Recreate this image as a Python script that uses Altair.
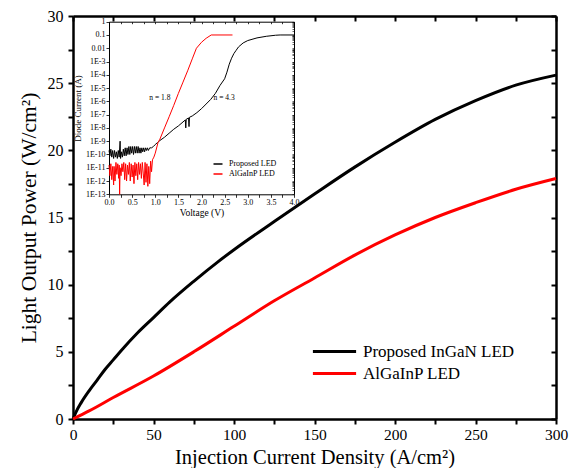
import altair as alt
import pandas as pd

# ---------------- main chart data ----------------
J_ingan = [0, 2, 5, 10, 15, 20, 25, 30, 40, 50, 60, 75, 90, 100, 125, 150, 175, 200, 225, 250, 275, 300]
P_ingan = [0, 0.55, 1.2, 2.1, 2.9, 3.7, 4.4, 5.1, 6.4, 7.55, 8.7, 10.25, 11.7, 12.6, 14.7, 16.75, 18.75, 20.6, 22.3, 23.7, 24.85, 25.6]
J_algainp = [0, 10, 25, 50, 75, 100, 125, 150, 175, 200, 225, 250, 275, 300]
P_algainp = [0, 0.6, 1.6, 3.2, 5.0, 6.9, 8.8, 10.5, 12.2, 13.7, 15.0, 16.1, 17.1, 17.9]
main_series = ["Proposed InGaN LED", "AlGaInP LED"]

# ---------------- inset data (voltage, log10 of current) ----------------
V_prop = [0.00, 0.02, 0.04, 0.06, 0.08, 0.10, 0.12, 0.14, 0.16, 0.18, 0.20, 0.22, 0.24, 0.25,
          0.27, 0.29, 0.31, 0.33, 0.35, 0.37, 0.39, 0.41, 0.43, 0.45, 0.47, 0.49, 0.51, 0.53,
          0.55, 0.57, 0.59, 0.61, 0.63, 0.65, 0.67, 0.69, 0.71, 0.73, 0.75, 0.77, 0.79, 0.81,
          0.83, 0.85, 0.88, 0.92, 0.96, 1.00, 1.05, 1.10, 1.20, 1.30, 1.40, 1.50, 1.60, 1.65,
          1.66, 1.67, 1.72, 1.73, 1.74, 1.80, 1.90, 2.00, 2.10, 2.20, 2.30, 2.40, 2.50, 2.55,
          2.60, 2.65, 2.70, 2.75, 2.80, 2.90, 3.00, 3.20, 3.40, 3.60, 3.70, 4.00]
E_prop = [-9.7, -10.1, -9.6, -10.2, -9.7, -10.3, -9.7, -10.2, -9.8, -10.3, -9.7, -10.2, -9.0, -10.3,
          -9.8, -10.2, -9.6, -10.1, -9.5, -10.1, -9.5, -10.0, -9.4, -10.0, -9.4, -9.9, -9.4, -10.0,
          -9.4, -9.9, -9.4, -9.9, -9.4, -9.9, -9.5, -9.9, -9.5, -9.8, -9.5, -9.8, -9.5, -9.7,
          -9.5, -9.7, -9.5, -9.5, -9.4, -9.25, -9.1, -8.95, -8.7, -8.4, -8.1, -7.85, -7.55, -7.4,
          -8.0, -7.35, -7.25, -7.9, -7.2, -7.1, -6.85, -6.55, -6.2, -5.85, -5.4, -4.8, -4.3, -3.8,
          -3.2, -2.75, -2.4, -2.15, -1.9, -1.6, -1.42, -1.22, -1.1, -1.02, -1.0, -1.0]

V_alg = [0.00, 0.02, 0.04, 0.06, 0.08, 0.10, 0.11, 0.13, 0.15, 0.17, 0.19, 0.21, 0.22, 0.23,
         0.24, 0.26, 0.28, 0.30, 0.32, 0.34, 0.36, 0.38, 0.40, 0.42, 0.44, 0.46, 0.48, 0.50,
         0.52, 0.54, 0.56, 0.58, 0.60, 0.62, 0.64, 0.66, 0.68, 0.70, 0.72, 0.74, 0.76, 0.78,
         0.80, 0.82, 0.84, 0.86, 0.88, 0.90, 0.92, 0.94, 0.97, 1.00, 1.06, 1.10, 1.20, 1.30,
         1.40, 1.50, 1.60, 1.70, 1.80, 1.89, 2.00, 2.10, 2.21, 2.67]
E_alg = [-10.8, -11.6, -10.7, -11.9, -10.9, -12.3, -10.9, -12.0, -10.6, -11.5, -10.7, -11.8, -10.8, -13.0,
         -11.0, -11.6, -10.7, -11.3, -10.6, -11.9, -10.7, -12.0, -10.8, -11.5, -10.6, -12.0, -10.7, -11.7,
         -10.8, -12.2, -10.6, -11.6, -10.7, -11.9, -10.6, -11.5, -10.7, -11.8, -10.6, -11.4, -12.3, -10.6,
         -12.1, -10.7, -12.4, -10.9, -12.2, -10.5, -11.3, -10.4, -10.2, -9.9, -9.1, -8.85, -8.0, -7.16,
         -6.3, -5.4, -4.55, -3.7, -2.8, -2.0, -1.55, -1.25, -1.0, -1.0]
inset_series = ["Proposed LED", "AlGaInP LED"]

note_V = [1.1, 2.49]
note_E = [-5.77, -5.75]
note_text = ["n = 1.8", "n = 4.3"]

# ---------------- tables ----------------
main_df = pd.concat([
    pd.DataFrame({"J": J_ingan, "P": P_ingan, "series": main_series[0]}),
    pd.DataFrame({"J": J_algainp, "P": P_algainp, "series": main_series[1]}),
], ignore_index=True)
inset_df = pd.concat([
    pd.DataFrame({"V": V_prop, "I": [10 ** e for e in E_prop], "series": inset_series[0]}),
    pd.DataFrame({"V": V_alg, "I": [10 ** e for e in E_alg], "series": inset_series[1]}),
], ignore_index=True)
note_df = pd.DataFrame({"V": note_V, "I": [10 ** e for e in note_E], "label": note_text})

# ---------------- layout ----------------
W, H = 483, 403
FONT = "Liberation Serif"
IX0, IX1 = 36, 221       # inset plot area x-range (px inside main plot)
IY0, IY1 = 178.3, 5.7    # inset plot area y-range (bottom, top)

jx = alt.Scale(domain=[0, 300], nice=False, zero=False)
py = alt.Scale(domain=[0, 30], nice=False, zero=False)
vx = alt.Scale(domain=[0, 4], nice=False, zero=False, range=[IX0, IX1])
iy = alt.Scale(type="log", domain=[1e-13, 1], nice=False, range=[IY0, IY1])

jvals = list(range(0, 301, 25))
pvals = [i * 2.5 for i in range(13)]
vvals = [i * 0.25 for i in range(17)]
ivals = [10.0 ** (-k) for k in range(13, -1, -1)]
ivals_minor = [m * 10.0 ** (-k) for k in range(13, 0, -1) for m in range(1, 10)] + [1.0]

ax_common = dict(domainColor="black", tickColor="black", labelColor="black", titleColor="black",
                 grid=False, labelFont=FONT, titleFont=FONT, titleFontWeight="normal",
                 labelOverlap=False, labelFlush=False)

main = alt.Chart(main_df).mark_line(strokeWidth=3, interpolate="monotone").encode(
    x=alt.X("J:Q", scale=jx, axis=alt.Axis(
        values=jvals, labelExpr="datum.value % 50 == 0 ? datum.label : ''",
        title="Injection Current Density (A/cm²)", titleFontSize=20.5, labelFontSize=15.5,
        titleY=44, titleBaseline="alphabetic",
        tickSize=5, tickWidth=2, domainWidth=2.5, labelPadding=3, **ax_common)),
    y=alt.Y("P:Q", scale=py, axis=alt.Axis(
        values=pvals, labelExpr="datum.value % 5 == 0 ? datum.label : ''",
        title="Light Output Power (W/cm²)", titleFontSize=21.5, labelFontSize=16,
        tickSize=5, tickWidth=2, domainWidth=2.5, labelPadding=5, titlePadding=7, **ax_common)),
    color=alt.Color("series:N", scale=alt.Scale(domain=main_series, range=["black", "red"]),
                    legend=alt.Legend(orient="none", legendX=248, legendY=322, title=None,
                                      symbolType="M-1.8,0L1.8,0", symbolSize=576, symbolStrokeWidth=3,
                                      labelFont=FONT, labelFontSize=17, labelColor="black",
                                      labelOffset=15, rowPadding=0, padding=0)),
)

frame = alt.Chart(main_df).mark_line(strokeOpacity=0).encode(
    x=alt.X("J:Q", scale=jx, axis=alt.Axis(
        orient="bottom", offset=-H, values=jvals, labels=False, title=None,
        tickSize=5, tickWidth=2, domainWidth=2.5, **ax_common)),
    y=alt.Y("P:Q", scale=py, axis=alt.Axis(
        orient="left", offset=-W, values=pvals, labels=False, title=None,
        tickSize=5, tickWidth=2, domainWidth=2.5, **ax_common)),
)

inset = alt.Chart(inset_df).mark_line(strokeWidth=1).encode(
    x=alt.X("V:Q", scale=vx, axis=alt.Axis(
        orient="bottom", offset=-(H - IY0), values=vvals,
        labelExpr="datum.value * 2 % 1 == 0 ? format(datum.value, '.1f') : ''",
        title="Voltage (V)", titleFontSize=9.5, labelFontSize=8,
        tickSize=3, tickWidth=0.8, domainWidth=1, labelPadding=1, titlePadding=1, **ax_common)),
    y=alt.Y("I:Q", scale=iy, axis=alt.Axis(
        orient="left", offset=-IX0, values=ivals,
        labelExpr="datum.value == 1 ? '1' : datum.value > 0.05 ? '0.1' : datum.value > 0.005 ? '0.01' : '1E' + round(log(datum.value) / LN10)",
        title="Diode Current (A)", titleFontSize=9, labelFontSize=8,
        tickSize=3, tickWidth=0.8, domainWidth=1, labelPadding=1, titlePadding=3, **ax_common)),
    color=alt.Color("series:N", scale=alt.Scale(domain=inset_series, range=["black", "red"]),
                    legend=alt.Legend(orient="none", legendX=139, legendY=142, title=None,
                                      symbolType="M-0.9,0L0.9,0", symbolSize=100, symbolStrokeWidth=1.5,
                                      labelFont=FONT, labelFontSize=8, labelColor="black",
                                      labelOffset=5, rowPadding=0, padding=0)),
)

inset_frame = alt.Chart(note_df).mark_text(font=FONT, fontSize=7.5, color="black").encode(
    x=alt.X("V:Q", scale=vx, axis=alt.Axis(
        orient="bottom", offset=-(H - IY1), values=vvals, labels=False, title=None,
        tickSize=2, tickWidth=0.8, domainWidth=1, **ax_common)),
    y=alt.Y("I:Q", scale=iy, axis=alt.Axis(
        orient="left", offset=-IX1, values=ivals_minor, labels=False, title=None,
        tickSize=2, tickWidth=0.6, domainWidth=1, **ax_common)),
    text="label:N",
)

chart = alt.layer(main, frame, inset, inset_frame).resolve_scale(
    x="independent", y="independent", color="independent"
).properties(
    width=W, height=H,
    autosize=alt.AutoSizeParams(type="none"),
    padding={"left": 65, "top": 8, "right": 14, "bottom": 49},
).configure_view(stroke=None).configure(background="white")

chart.save("out.html", embed_options={"renderer": "svg", "actions": False})
